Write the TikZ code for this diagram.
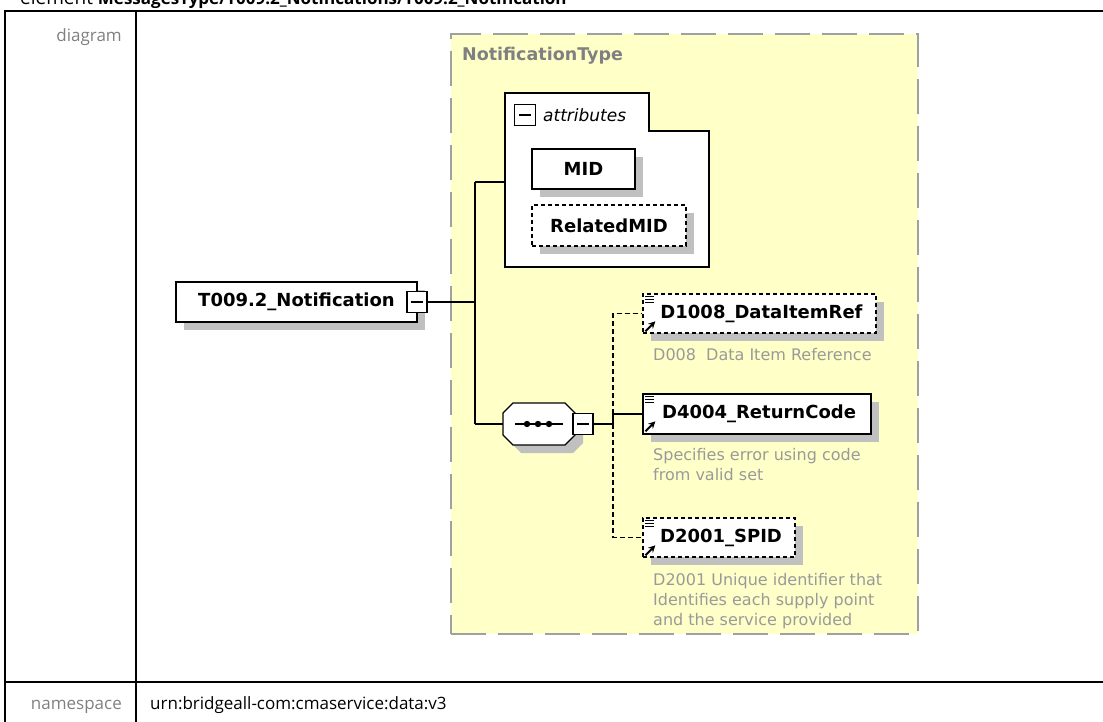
\documentclass[tikz,border=0pt]{standalone}
\usepackage{fontspec}
\setmainfont{DejaVu Sans}
\newfontfamily\uifont{Open Sans}
\usetikzlibrary{shadows,arrows.meta}
\definecolor{ylw}{HTML}{FFFFC8}
\definecolor{shd}{HTML}{C0C0C0}
\definecolor{brd}{HTML}{A0A0A0}
\definecolor{lblgray}{HTML}{808080}
\definecolor{descgray}{HTML}{9A9A9A}
\begin{document}
\begin{tikzpicture}[x=1pt,y=-1pt,
  elem/.style={draw=black, line width=1.3pt, fill=white,
    general shadow={fill=shd, shadow xshift=8pt, shadow yshift=-8pt},
    inner sep=0pt, font=\fontsize{18}{20}\selectfont\bfseries},
  optelem/.style={elem, dash pattern=on 4pt off 3pt},
  minusbox/.style={draw=black, line width=1.2pt, fill=white, minimum width=20pt, minimum height=21pt, inner sep=0pt},
  conn/.style={line width=1.5pt, black},
  optconn/.style={conn, dash pattern=on 5pt off 3pt},
  desc/.style={anchor=north west, align=left, text=descgray, inner sep=0pt,
    font=\fontsize{16}{20}\selectfont},
  tbl/.style={line width=2pt, black},
  tbllbl/.style={font=\uifont\fontsize{17}{20}\selectfont, inner sep=0pt},
  eicon/.pic={
    \draw[line width=1pt] (3,3) -- (12,3) (3,6) -- (12,6) (3,9) -- (12,9);
    \draw[line width=2pt, -{Stealth[length=7pt,width=7pt]}] (3,38) -- (13,28);
  }
]
\useasboundingbox (0,0) rectangle (1103,722);
\clip (0,0) rectangle (1103,722);

% table
\node[anchor=base west, inner sep=0pt, font=\uifont\fontsize{19}{20}\selectfont] (title) at (20,5)
  {element \textbf{\fontsize{17}{20}\selectfont MessagesType/T009.2\_Notifications/T009.2\_Notification}};
\draw[tbl] (5,11) -- (1103,11);
\draw[tbl] (5,10) -- (5,722);
\draw[tbl] (136,10) -- (136,722);
\draw[tbl] (5,682) -- (1103,682);
\node[tbllbl, anchor=base east, text=lblgray] (lbldiag) at (122,42) {diagram};
\node[tbllbl, anchor=base east, text=lblgray] (lblns) at (122,709) {namespace};
\node[tbllbl, anchor=base west] (nsval) at (150,709) {urn:bridgeall-com:cmaservice:data:v3};

% complex type box
\node[draw=brd, fill=ylw, line width=2pt, dash pattern=on 35pt off 12pt,
  minimum width=467pt, minimum height=600pt, anchor=north west, inner sep=0pt] (typebox) at (450,33) {};
\node[anchor=west, inner sep=0pt, text=lblgray, font=\fontsize{17.5}{20}\selectfont\bfseries] (typename) at (462,56) {NotificationType};

% attributes container
\draw[line width=1.3pt, fill=white] (505,131) -- (505,93) -- (649,93) -- (649,131) -- (709,131) -- (709,267) -- (505,267) -- cycle;
\node[minusbox, minimum width=21pt] (attrminus) at (525,115) {};
\draw[line width=1.2pt] (519,115) -- (531,115);
\node[anchor=west, inner sep=0pt, font=\fontsize{17}{20}\selectfont\itshape] (attrlbl) at (543,115) {attributes};
\coordinate (attrin) at (505,182);

\node[elem, minimum width=103pt, minimum height=40pt] (mid) at (583.5,169) {MID};
\node[optelem, minimum width=154pt, minimum height=41pt] (relmid) at (609,225.5) {RelatedMID};

% root element
\node[elem, minimum width=241pt, minimum height=40pt] (root) at (296.5,302) {T009.2\_Notification\hspace{5pt}};
\node[minusbox] (rootminus) at (417,302) {};
\draw[line width=1.2pt] (411,302) -- (423,302);

% sequence compositor
\fill[shd] (521,411) -- (573,411) -- (583,421) -- (583,443) -- (573,453) -- (521,453) -- (511,443) -- (511,421) -- cycle;
\draw[line width=1.3pt, fill=white] (513,403) -- (565,403) -- (575,413) -- (575,435) -- (565,445) -- (513,445) -- (503,435) -- (503,413) -- cycle;
\coordinate (seqin) at (503,424);
\draw[line width=1.5pt] (515,424) -- (563,424);
\fill (527,424) circle (3.2pt) (538,424) circle (3.2pt) (549,424) circle (3.2pt);
\node[minusbox] (seqminus) at (583,424) {};
\draw[line width=1.2pt] (577,424) -- (589,424);

% child elements
\node[optelem, minimum width=233pt, minimum height=39pt] (d1008) at (759.5,313.5) {\hspace{4pt}D1008\_DataItemRef};
\node[elem, minimum width=228pt, minimum height=40pt] (d4004) at (757,414) {\hspace{4pt}D4004\_ReturnCode};
\node[optelem, minimum width=152pt, minimum height=39pt] (d2001) at (719,537.5) {\hspace{4pt}D2001\_SPID};
\pic at (d1008.north west) {eicon};
\pic at (d4004.north west) {eicon};
\pic at (d2001.north west) {eicon};

\node[desc] (d1008desc) at (653,348) {D008~ Data Item Reference};
\node[desc] (d4004desc) at (653,448) {Specifies error using code\\from valid set};
\node[desc] (d2001desc) at (653,573) {D2001 Unique identifier that\\Identifies each supply point\\and the service provided};

% connectors
\coordinate (bus) at (475,302);
\coordinate (bustop) at (475,182);
\coordinate (busbot) at (475,424);
\draw[conn] (rootminus.east) -- (bus);
\draw[conn] (bustop) -- (busbot);
\draw[conn] (bustop) -- (attrin);
\draw[conn] (busbot) -- (seqin);
\coordinate (cbus) at (613,424);
\coordinate (cbustop) at (613,313.5);
\coordinate (cbusmid) at (613,414);
\coordinate (cbusbot) at (613,537.5);
\draw[conn] (seqminus.east) -- (cbus);
\draw[conn] (cbus) -- (cbusmid) -- (d4004.west);
\draw[optconn] (cbusmid) -- (cbustop) -- (d1008.west);
\draw[optconn] (cbus) -- (cbusbot) -- (d2001.west);
\end{tikzpicture}
\end{document}
